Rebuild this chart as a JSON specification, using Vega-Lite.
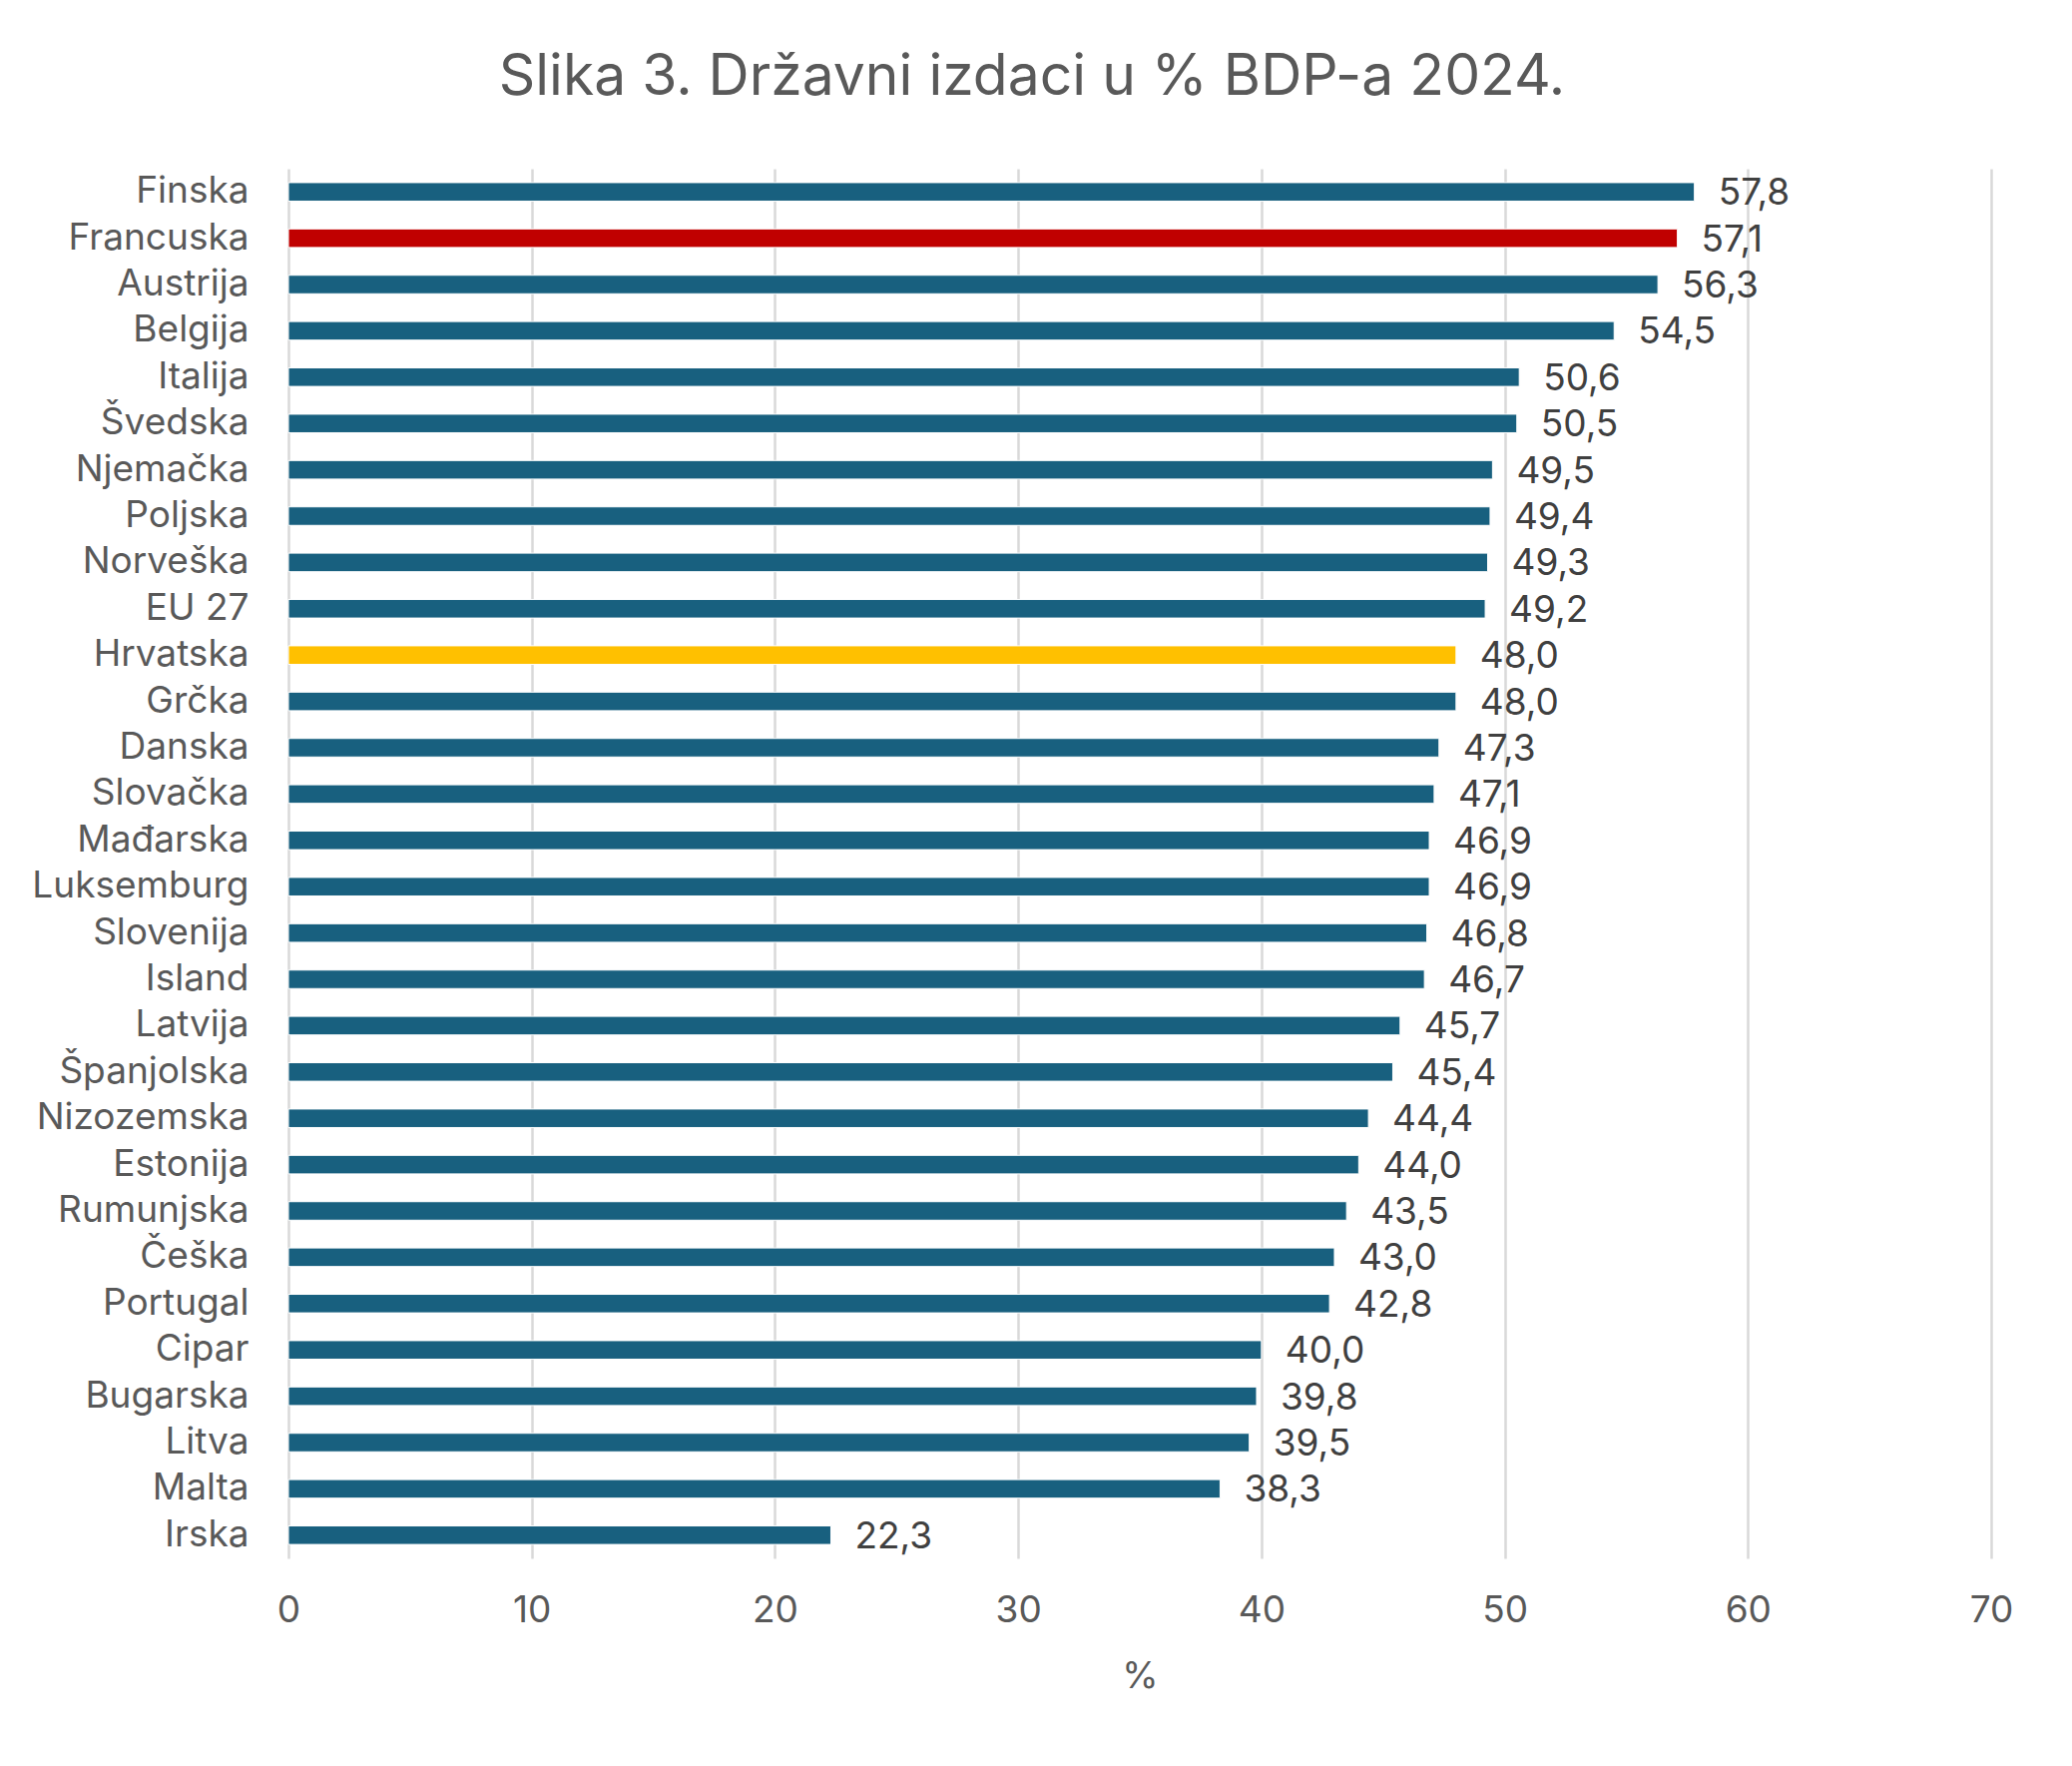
{
  "$schema": "https://vega.github.io/schema/vega-lite/v6.json",
  "autosize": {"type": "none"},
  "width": 1706,
  "height": 1392,
  "padding": {"left": 289, "top": 169, "right": 81, "bottom": 208},
  "background": "white",
  "config": {
    "locale": {"number": {"decimal": ",", "thousands": ".", "grouping": [3], "currency": ["", " €"]}},
    "font": "Inter",
    "view": {"stroke": null}
  },
  "title": {
    "text": "Slika 3. Državni izdaci u % BDP-a 2024.",
    "fontSize": 57,
    "fontWeight": "normal",
    "color": "#595959",
    "font": "Inter",
    "anchor": "middle",
    "dx": -108,
    "baseline": "alphabetic",
    "offset": 17
  },
  "data": {
    "values": [
      {"country": "Finska", "value": 57.8},
      {"country": "Francuska", "value": 57.1},
      {"country": "Austrija", "value": 56.3},
      {"country": "Belgija", "value": 54.5},
      {"country": "Italija", "value": 50.6},
      {"country": "Švedska", "value": 50.5},
      {"country": "Njemačka", "value": 49.5},
      {"country": "Poljska", "value": 49.4},
      {"country": "Norveška", "value": 49.3},
      {"country": "EU 27", "value": 49.2},
      {"country": "Hrvatska", "value": 48.0},
      {"country": "Grčka", "value": 48.0},
      {"country": "Danska", "value": 47.3},
      {"country": "Slovačka", "value": 47.1},
      {"country": "Mađarska", "value": 46.9},
      {"country": "Luksemburg", "value": 46.9},
      {"country": "Slovenija", "value": 46.8},
      {"country": "Island", "value": 46.7},
      {"country": "Latvija", "value": 45.7},
      {"country": "Španjolska", "value": 45.4},
      {"country": "Nizozemska", "value": 44.4},
      {"country": "Estonija", "value": 44.0},
      {"country": "Rumunjska", "value": 43.5},
      {"country": "Češka", "value": 43.0},
      {"country": "Portugal", "value": 42.8},
      {"country": "Cipar", "value": 40.0},
      {"country": "Bugarska", "value": 39.8},
      {"country": "Litva", "value": 39.5},
      {"country": "Malta", "value": 38.3},
      {"country": "Irska", "value": 22.3}
    ]
  },
  "encoding": {
    "y": {
      "field": "country",
      "type": "nominal",
      "sort": null,
      "scale": {"paddingInner": 0.6, "paddingOuter": 0.3},
      "axis": {
        "title": null,
        "ticks": false,
        "domain": false,
        "labelPadding": 40,
        "labelLimit": 0,
        "labelFontSize": 37,
        "labelColor": "#595959",
        "labelFont": "Inter"
      }
    },
    "x": {
      "field": "value",
      "type": "quantitative",
      "scale": {"domain": [0, 70], "nice": false},
      "axis": {
        "title": "%",
        "titleFontSize": 37,
        "titleFontWeight": "normal",
        "titleColor": "#595959",
        "titleFont": "Inter",
        "titlePadding": 30,
        "values": [0, 10, 20, 30, 40, 50, 60, 70],
        "format": "d",
        "ticks": false,
        "domain": false,
        "labelFlush": false,
        "labelPadding": 34,
        "labelFontSize": 37,
        "labelColor": "#595959",
        "labelFont": "Inter",
        "grid": true,
        "gridColor": "#D9D9D9",
        "gridWidth": 2.5
      }
    }
  },
  "layer": [
    {
      "mark": {"type": "bar", "stroke": "white", "strokeWidth": 1},
      "encoding": {
        "color": {
          "condition": [
            {"test": "datum.country === 'Francuska'", "value": "#C00000"},
            {"test": "datum.country === 'Hrvatska'", "value": "#FFC000"}
          ],
          "value": "#18607F"
        }
      }
    },
    {
      "mark": {"type": "text", "align": "left", "baseline": "middle", "dx": 24, "dy": 2, "fontSize": 37, "color": "#404040", "font": "Inter"},
      "encoding": {
        "text": {"field": "value", "type": "quantitative", "format": ".1f"}
      }
    }
  ]
}
